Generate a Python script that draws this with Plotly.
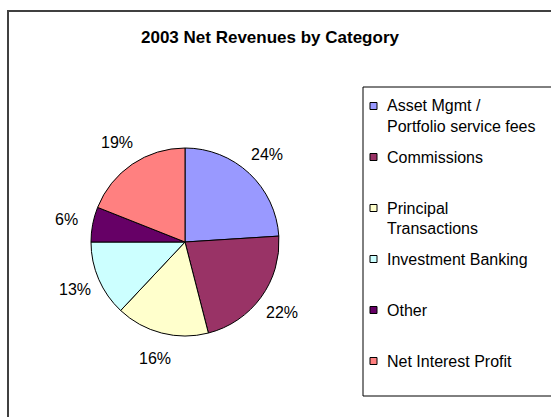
import math
import plotly.graph_objects as go

# ---- data ----
categories = ["Asset Mgmt /<br>Portfolio service fees", "Commissions",
              "Principal<br>Transactions", "Investment Banking", "Other",
              "Net Interest Profit"]
shares = [24, 22, 16, 13, 6, 19]
colors = ["#9999FF", "#993366", "#FFFFCC", "#CCFFFF", "#660066", "#FF8080"]
title_text = "2003 Net Revenues by Category"

W, H = 551, 417
FONT = "Liberation Sans, Arial, sans-serif"

def px(x):
    return x / W

def py(y):
    return 1 - y / H

# pie geometry (pixels)
cx, cy, R = 185, 242, 94

fig = go.Figure(go.Pie(
    labels=[c.replace("<br>", " ") for c in categories],
    values=shares,
    sort=False,
    direction="clockwise",
    rotation=0,
    marker=dict(colors=colors, line=dict(color="#000000", width=1)),
    textinfo="none",
    hoverinfo="label+percent",
    showlegend=False,
    domain=dict(x=[px(cx - R), px(cx + R)], y=[py(cy + R), py(cy - R)]),
))

shapes = []
annotations = []

# outer chart frame
shapes.append(dict(type="rect", xref="paper", yref="paper",
                   x0=px(8), x1=px(570), y0=py(430), y1=py(11),
                   line=dict(color="#404040", width=2), fillcolor="rgba(0,0,0,0)"))

# title
annotations.append(dict(text="<b>" + title_text + "</b>", x=px(270), y=py(37),
                        xref="paper", yref="paper", showarrow=False,
                        xanchor="center", yanchor="middle",
                        font=dict(family=FONT, size=17, color="#000000")))

# percentage labels outside the pie
total = sum(shares)
cum = 0
for v in shares:
    mid = (cum + v / 2) / total * 2 * math.pi
    cum += v
    lx = cx + 1.28 * R * math.sin(mid)
    ly = cy - 1.28 * R * math.cos(mid)
    annotations.append(dict(text=f"{round(v / total * 100)}%", x=px(lx), y=py(ly),
                            xref="paper", yref="paper", showarrow=False,
                            xanchor="center", yanchor="middle",
                            font=dict(family=FONT, size=16, color="#000000")))

# legend box
shapes.append(dict(type="rect", xref="paper", yref="paper",
                   x0=px(363), x1=px(570), y0=py(396), y1=py(87),
                   line=dict(color="#000000", width=1), fillcolor="#FFFFFF",
                   layer="below"))
for i, (name, col) in enumerate(zip(categories, colors)):
    y0 = 106 + i * 51
    shapes.append(dict(type="rect", xref="paper", yref="paper",
                       x0=px(370), x1=px(377), y0=py(y0 + 3.5), y1=py(y0 - 3.5),
                       line=dict(color="#000000", width=1), fillcolor=col))
    for j, line in enumerate(name.split("<br>")):
        annotations.append(dict(text=line, x=px(385), y=py(y0 + j * 20),
                                xref="paper", yref="paper", showarrow=False,
                                xanchor="left", yanchor="middle",
                                font=dict(family=FONT, size=16, color="#000000")))

fig.update_layout(
    width=W, height=H,
    margin=dict(l=0, r=0, t=0, b=0),
    paper_bgcolor="#FFFFFF",
    plot_bgcolor="#FFFFFF",
    shapes=shapes,
    annotations=annotations,
    showlegend=False,
)

fig.write_html("out.html", config={"displayModeBar": False},
               post_script="document.body.style.margin='0';document.body.style.overflow='hidden';")
